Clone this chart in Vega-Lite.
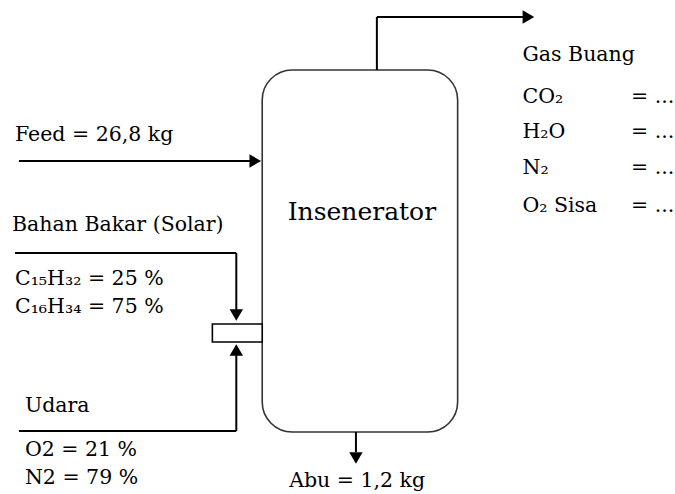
{
  "$schema": "https://vega.github.io/schema/vega-lite/v6.json",
  "width": 675,
  "height": 494,
  "padding": 0,
  "autosize": {"type": "fit", "contains": "padding"},
  "background": "white",
  "config": {"view": {"stroke": null}, "axis": {"disable": true}, "text": {"font": "DejaVu Serif"}},
  "datasets": {
    "lines": [
      {"x": 378, "y": 70, "x2": 378, "y2": 17},
      {"x": 378, "y": 17, "x2": 528, "y2": 17},
      {"x": 19, "y": 161, "x2": 255, "y2": 161},
      {"x": 15, "y": 253, "x2": 237, "y2": 253},
      {"x": 237, "y": 253, "x2": 237, "y2": 312},
      {"x": 19, "y": 431, "x2": 237, "y2": 431},
      {"x": 237, "y": 431, "x2": 237, "y2": 352},
      {"x": 357, "y": 432, "x2": 357, "y2": 452}
    ],
    "arrows": [
      {"x": 530, "y": 17, "dir": "triangle-right"},
      {"x": 256, "y": 161, "dir": "triangle-right"},
      {"x": 237, "y": 315, "dir": "triangle-down"},
      {"x": 237, "y": 350, "dir": "triangle-up"},
      {"x": 357, "y": 458, "dir": "triangle-down"}
    ],
    "boxes": [
      {"name": "Insenerator", "x": 263, "y": 70, "x2": 459, "y2": 432},
      {"name": "nozzle", "x": 213, "y": 324, "x2": 263, "y2": 342}
    ],
    "texts": [
      {"x": 15, "y": 135, "label": "Feed = 26,8 kg"},
      {"x": 12, "y": 225, "label": "Bahan Bakar (Solar)"},
      {"x": 15, "y": 279, "label": "C₁₅H₃₂ = 25 %"},
      {"x": 15, "y": 307, "label": "C₁₆H₃₄ = 75 %"},
      {"x": 25, "y": 406, "label": "Udara"},
      {"x": 25, "y": 450, "label": "O2 = 21 %"},
      {"x": 25, "y": 478, "label": "N2 = 79 %"},
      {"x": 290, "y": 481, "label": "Abu = 1,2 kg"},
      {"x": 524, "y": 55, "label": "Gas Buang"},
      {"x": 524, "y": 97, "label": "CO₂"},
      {"x": 524, "y": 132, "label": "H₂O"},
      {"x": 524, "y": 168, "label": "N₂"},
      {"x": 524, "y": 206, "label": "O₂ Sisa"},
      {"x": 633, "y": 97, "label": "= ..."},
      {"x": 633, "y": 132, "label": "= ..."},
      {"x": 633, "y": 168, "label": "= ..."},
      {"x": 633, "y": 206, "label": "= ..."}
    ],
    "title": [
      {"x": 363, "y": 212, "label": "Insenerator"}
    ]
  },
  "layer": [
    {
      "data": {"name": "boxes"},
      "transform": [{"filter": "datum.name == 'Insenerator'"}],
      "mark": {"type": "rect", "fill": "white", "stroke": "#333333", "strokeWidth": 1.6, "cornerRadius": 30},
      "encoding": {
        "x": {"field": "x", "type": "quantitative", "scale": {"domain": [0, 675], "nice": false, "zero": false}},
        "x2": {"field": "x2"},
        "y": {"field": "y", "type": "quantitative", "scale": {"domain": [0, 494], "nice": false, "zero": false, "reverse": true}},
        "y2": {"field": "y2"}
      }
    },
    {
      "data": {"name": "boxes"},
      "transform": [{"filter": "datum.name == 'nozzle'"}],
      "mark": {"type": "rect", "fill": "white", "stroke": "black", "strokeWidth": 1.6},
      "encoding": {
        "x": {"field": "x", "type": "quantitative"},
        "x2": {"field": "x2"},
        "y": {"field": "y", "type": "quantitative"},
        "y2": {"field": "y2"}
      }
    },
    {
      "data": {"name": "lines"},
      "mark": {"type": "rule", "color": "black", "strokeWidth": 2},
      "encoding": {
        "x": {"field": "x", "type": "quantitative"},
        "x2": {"field": "x2"},
        "y": {"field": "y", "type": "quantitative"},
        "y2": {"field": "y2"}
      }
    },
    {
      "data": {"name": "arrows"},
      "mark": {"type": "point", "filled": true, "color": "black", "opacity": 1, "size": 180},
      "encoding": {
        "x": {"field": "x", "type": "quantitative"},
        "y": {"field": "y", "type": "quantitative"},
        "shape": {"field": "dir", "type": "nominal", "scale": null}
      }
    },
    {
      "data": {"name": "texts"},
      "mark": {"type": "text", "align": "left", "baseline": "middle", "font": "DejaVu Serif", "fontSize": 20.5, "color": "black"},
      "encoding": {
        "x": {"field": "x", "type": "quantitative"},
        "y": {"field": "y", "type": "quantitative"},
        "text": {"field": "label"}
      }
    },
    {
      "data": {"name": "title"},
      "mark": {"type": "text", "align": "center", "baseline": "middle", "font": "DejaVu Serif", "fontSize": 25, "color": "black"},
      "encoding": {
        "x": {"field": "x", "type": "quantitative"},
        "y": {"field": "y", "type": "quantitative"},
        "text": {"field": "label"}
      }
    }
  ]
}
